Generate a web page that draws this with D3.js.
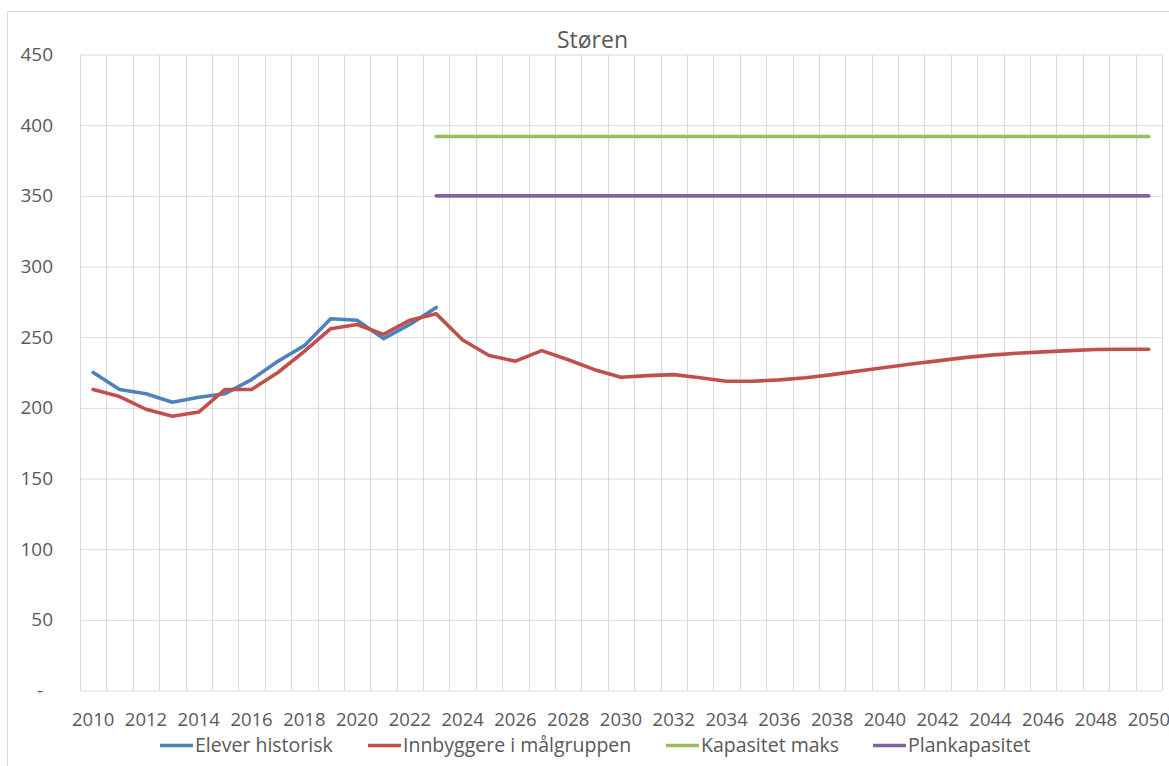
<!DOCTYPE html>
<html>
<head>
<meta charset="utf-8">
<script src="https://cdn.jsdelivr.net/npm/d3@7"></script>
<style>
  html, body { margin: 0; padding: 0; background: #fff; }
  svg { display: block; font-family: "Open Sans", sans-serif; }
</style>
</head>
<body>
<svg id="chart" width="1169" height="766"></svg>
<script>
// ---- Data ----
const years = d3.range(2010, 2051);
const yTicks = [0, 50, 100, 150, 200, 250, 300, 350, 400, 450];
const xTickLabels = d3.range(2010, 2051, 2);

const eleverYears = d3.range(2010, 2024);
const eleverHistorisk = [225, 213, 210, 204, 207.5, 210, 220, 233, 244, 263, 262, 249, 259, 271];

const innbyggereYears = d3.range(2010, 2051);
const innbyggere = [213, 208, 199, 194, 197, 213, 213, 225, 240, 256, 259, 252, 262, 266.5,
  248, 237, 233, 240.5, 234, 227, 221.6, 222.8, 223.5, 221.3, 218.8, 218.8, 219.8,
  221.3, 223.5, 226, 228.6, 231, 233.2, 235.5, 237.3, 238.6, 239.6, 240.5, 241.3, 241.4, 241.5];

const kapYears = d3.range(2023, 2051);
const kapasitetMaks = kapYears.map(() => 392);
const planYears = d3.range(2023, 2051);
const plankapasitet = planYears.map(() => 350);

const seriesNames = ["Elever historisk", "Innbyggere i målgruppen", "Kapasitet maks", "Plankapasitet"];
const seriesColors = ["#4F81BD", "#C0504D", "#9BBB59", "#8064A2"];

// ---- Layout ----
const svg = d3.select("#chart");
const plot = { left: 80, right: 1162, top: 54.5, bottom: 690.5 };
const textColor = "#595959";
const gridColor = "#D9D9D9";

// outer chart border
svg.append("rect")
  .attr("x", 7.5).attr("y", 11.5).attr("width", 1175).attr("height", 770)
  .attr("fill", "none").attr("stroke", gridColor).attr("stroke-width", 1);

const x = d3.scaleBand().domain(years).range([plot.left, plot.right]).padding(0);
const y = d3.scaleLinear().domain([0, 450]).range([plot.bottom, plot.top]);
const cx = yr => x(yr) + x.bandwidth() / 2;

// horizontal gridlines + y labels
const yAxis = d3.axisLeft(y).tickValues(yTicks)
  .tickSize(-(plot.right - plot.left)).tickPadding(27)
  .tickFormat(d => d === 0 ? "-" : d3.format(",")(d));
const gy = svg.append("g").attr("transform", `translate(${plot.left},0)`).call(yAxis);
gy.select(".domain").remove();
gy.selectAll(".tick line").attr("stroke", gridColor).attr("stroke-width", 1);
gy.selectAll(".tick text").attr("fill", textColor).style("font-size", "19px")
  .style("font-family", "'Open Sans', sans-serif")
  .attr("dx", d => d === 0 ? -10 : 0);

// vertical gridlines at category boundaries
const boundaries = years.map(yr => x(yr)).concat([plot.right]);
svg.append("g").selectAll("line").data(boundaries).join("line")
  .attr("x1", d => Math.round(d) + 0.5).attr("x2", d => Math.round(d) + 0.5)
  .attr("y1", plot.top).attr("y2", plot.bottom)
  .attr("stroke", gridColor).attr("stroke-width", 1);

// x labels
const xAxis = d3.axisBottom(x).tickValues(xTickLabels).tickSize(0).tickPadding(22);
const gx = svg.append("g").attr("transform", `translate(0,${plot.bottom})`).call(xAxis);
gx.select(".domain").remove();
gx.selectAll(".tick text").attr("fill", textColor).style("font-size", "18.5px")
  .style("font-family", "'Open Sans', sans-serif");

// lines
const line = d3.line().x(d => cx(d[0])).y(d => y(d[1]));
const series = [
  { yrs: eleverYears, vals: eleverHistorisk },
  { yrs: innbyggereYears, vals: innbyggere },
  { yrs: kapYears, vals: kapasitetMaks },
  { yrs: planYears, vals: plankapasitet }
];
const drawOrder = [0, 1, 2, 3];
drawOrder.forEach(i => {
  const s = series[i];
  svg.append("path")
    .datum(s.yrs.map((yr, j) => [yr, s.vals[j]]))
    .attr("d", line)
    .attr("fill", "none")
    .attr("stroke", seriesColors[i])
    .attr("stroke-width", 3.6)
    .attr("stroke-linejoin", "round")
    .attr("stroke-linecap", "round");
});

// title
svg.append("text")
  .attr("x", 592.5).attr("y", 47.5)
  .attr("text-anchor", "middle")
  .attr("fill", textColor)
  .style("font-size", "23px")
  .text("Støren");

// legend
const legendX = [160, 368, 666, 873];
const legendY = 745.5;
const lg = svg.append("g");
seriesNames.forEach((name, i) => {
  lg.append("line")
    .attr("x1", legendX[i]).attr("x2", legendX[i] + 33)
    .attr("y1", legendY).attr("y2", legendY)
    .attr("stroke", seriesColors[i]).attr("stroke-width", 3.6);
  lg.append("text")
    .attr("x", legendX[i] + 35).attr("y", legendY)
    .attr("dy", "0.35em")
    .attr("fill", textColor)
    .style("font-size", "19.5px")
    .text(name);
});
</script>
</body>
</html>
